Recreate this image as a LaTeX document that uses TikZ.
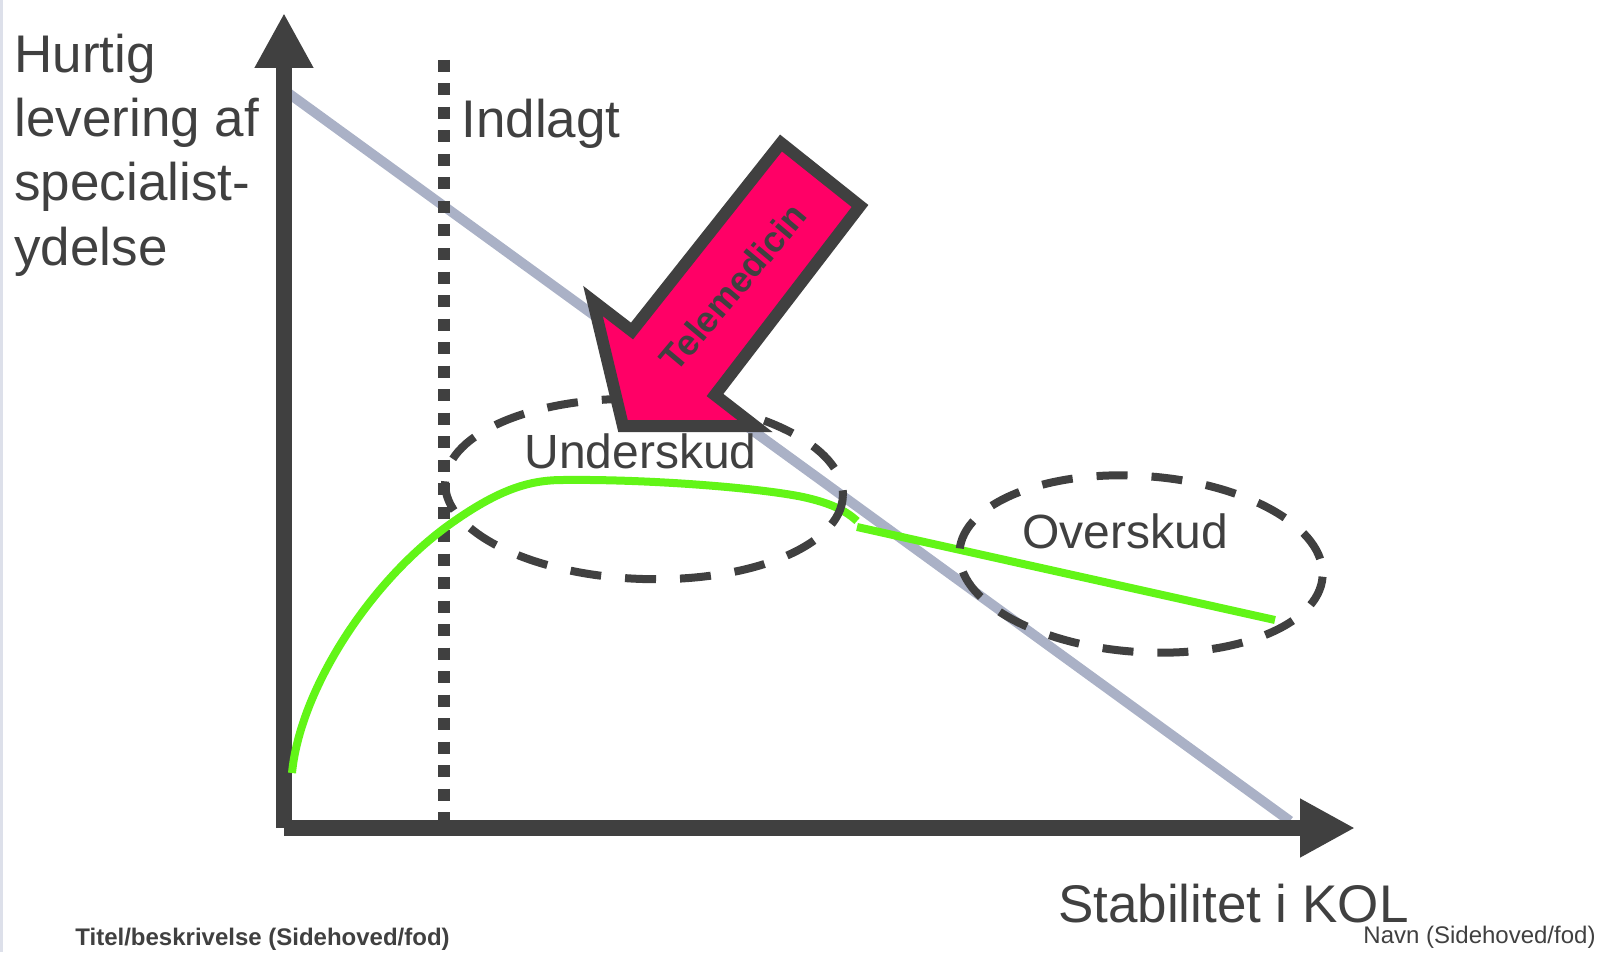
\documentclass[tikz,border=0pt]{standalone}
\usepackage{fontspec}
\setmainfont{Liberation Sans}
\usetikzlibrary{arrows.meta}
\definecolor{ink}{HTML}{404040}
\definecolor{slate}{HTML}{AAB1C6}
\definecolor{lime}{HTML}{62F517}
\definecolor{hotpink}{HTML}{FF0066}
\definecolor{edgeline}{HTML}{DDE0EA}
\begin{document}
\begin{tikzpicture}[x=0.5pt,y=-0.5pt,
  axisline/.style={draw=ink, line width=8pt, line cap=butt, -{Triangle[length=27.5pt,width=27.5pt]}},
  trend/.style={draw=slate, line width=5pt},
  curve/.style={draw=lime, line width=4pt},
  dotline/.style={draw=ink, line width=6pt, dash pattern=on 6pt off 5.75pt},
  ringdash/.style={draw=ink, line width=4pt, dash pattern=on 15.5pt off 12pt},
  biglabel/.style={text=ink, inner sep=0pt, anchor=base west, font=\fontsize{26.5}{32}\selectfont},
  midlabel/.style={text=ink, inner sep=0pt, anchor=base west, font=\fontsize{24}{28}\selectfont},
  footlabel/.style={text=ink, inner sep=0pt, anchor=base west, font=\fontsize{12}{14}\selectfont},
  bigarrow/.style={draw=ink, fill=hotpink, line width=6pt, line join=miter}
]
\useasboundingbox (0,0) rectangle (1599,952);
% left edge line
\coordinate (e1) at (1.5,0);
\coordinate (e2) at (1.5,952);
\draw[edgeline, line width=1.5pt] (e1) -- (e2);

% coordinates
\coordinate (O) at (284,828);
\coordinate (ytip) at (284,13);
\coordinate (xtip) at (1355,828);
\coordinate (g1) at (284,90);
\coordinate (g2) at (1290,821);
\coordinate (d1) at (444,60);
\coordinate (d2) at (444,828);

% grey trend line
\draw[trend] (g1) -- (g2);
% dotted line
\draw[dotline] (d1) -- (d2);
% axes
\draw[axisline] (O) -- (ytip);
\draw[axisline] (O) -- (xtip);

% green curve
\coordinate (c0) at (292,773);
\coordinate (c1) at (453,522);
\coordinate (c2) at (563,480);
\coordinate (c3) at (803,497);
\coordinate (c4) at (857,521);
\draw[curve] (c0) .. controls (300,690) and (370,580) .. (c1)
  .. controls (500,489) and (530,480) .. (c2)
  .. controls (650,479) and (760,488) .. (c3)
  .. controls (830,503) and (845,510) .. (c4);
\coordinate (s1) at (857,527);
\coordinate (s2) at (1275,620);
\draw[curve] (s1) -- (s2);

% dashed ellipses
\draw[ringdash, rotate around={-2:(644,489)}] (644,489) ellipse [x radius=199, y radius=90];
\draw[ringdash, rotate around={-4:(1141,564)}] (1141,564) ellipse [x radius=182, y radius=88];

% labels
\node[biglabel] (l1) at (14,73) {Hurtig};
\node[biglabel] (l2) at (14,137) {levering af};
\node[biglabel] (l3) at (14,201) {specialist-};
\node[biglabel] (l4) at (14,265) {ydelse};
\node[biglabel] (ind) at (461,138) {Indlagt};
\node[midlabel] (under) at (524,468) {Underskud};
\node[midlabel] (over) at (1022,548) {Overskud};
\node[biglabel, anchor=base east] (stab) at (1409,922) {Stabilitet i KOL};
\node[footlabel, font=\bfseries\fontsize{12}{14}\selectfont] (foot1) at (75,945) {Titel/beskrivelse (Sidehoved/fod)};
\node[footlabel] (foot2) at (1363,943) {Navn (Sidehoved/fod)};

% Telemedicin arrow
\draw[bigarrow] (781,143) -- (860,206) -- (715,395) -- (755,426) -- (623,426) -- (593,301) -- (632,331) -- cycle;
\node[text=ink, inner sep=0pt, rotate=50, font=\bfseries\fontsize{18}{20}\selectfont] (tele) at (733,287) {Telemedicin};
\end{tikzpicture}
\end{document}
